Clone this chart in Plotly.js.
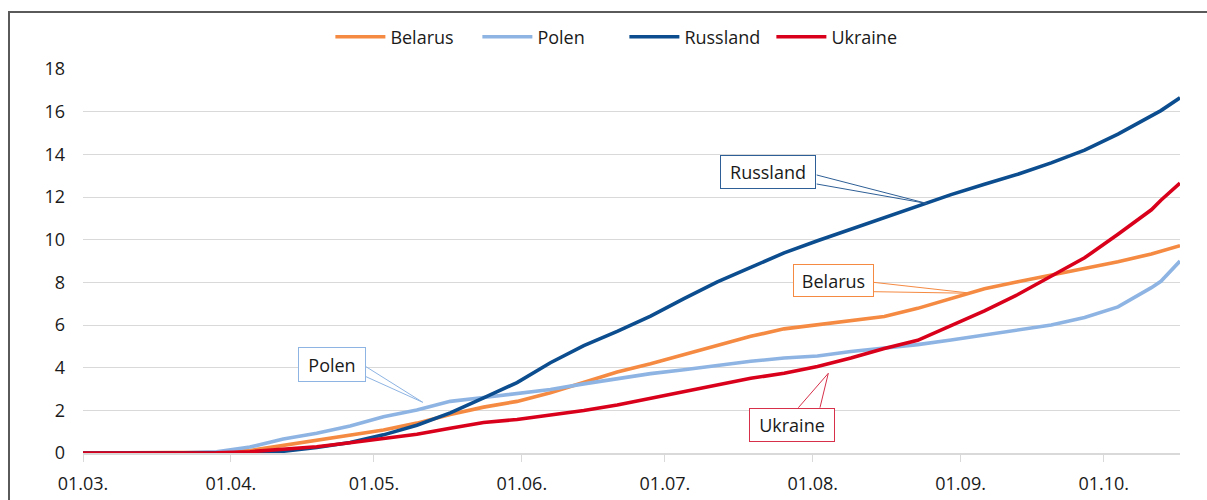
<!DOCTYPE html>
<html>
<head>
<meta charset="utf-8">
<script src="https://cdn.plot.ly/plotly-3.0.1.min.js"></script>
<style>
  html, body { margin: 0; padding: 0; background: #fff; }
  #wrap { position: relative; width: 1207px; height: 500px; overflow: hidden; }
  #chart { position: absolute; left: 0; top: 0; width: 1207px; height: 500px; }
  #frame { position: absolute; left: 8px; top: 11px; width: 1300px; height: 600px;
           border-left: 2px solid #5a5a5a; border-top: 2px solid #5a5a5a; pointer-events: none; }
</style>
</head>
<body>
<div id="wrap">
  <div id="chart"></div>
  <div id="frame"></div>
</div>
<script>
const dates = ['2021-03-01','2021-03-08','2021-03-15','2021-03-22','2021-03-29',
  '2021-04-05','2021-04-12','2021-04-19','2021-04-26','2021-05-03',
  '2021-05-10','2021-05-17','2021-05-24','2021-05-31','2021-06-07',
  '2021-06-14','2021-06-21','2021-06-28','2021-07-05','2021-07-12',
  '2021-07-19','2021-07-26','2021-08-02','2021-08-09','2021-08-16',
  '2021-08-23','2021-08-30','2021-09-06','2021-09-13','2021-09-20',
  '2021-09-27','2021-10-04','2021-10-11','2021-10-13','2021-10-17'];

const belarus = [0,0,0,0.01,0.03, 0.12,0.36,0.61,0.85,1.08, 1.4,1.8,2.15,2.42,2.82,
  3.33,3.8,4.18,4.62,5.04, 5.47,5.82,6.0,6.18,6.4, 6.78,7.22,7.7,8.03,8.35,
  8.64,8.97,9.33,9.45,9.72];
const polen = [0,0,0,0.01,0.06, 0.28,0.66,0.93,1.27,1.7, 2.02,2.42,2.6,2.78,2.98,
  3.24,3.5,3.72,3.9,4.1, 4.3,4.45,4.55,4.76,4.92, 5.08,5.3,5.52,5.78,6.0,
  6.35,6.85,7.75,8.05,9.0];
const russland = [0,0,0,0,0.01, 0.02,0.08,0.26,0.49,0.85, 1.3,1.88,2.58,3.3,4.23,
  5.03,5.7,6.42,7.24,8.02, 8.7,9.38,9.95,10.5,11.05, 11.6,12.11,12.6,13.07,13.6,
  14.2,14.95,15.8,16.05,16.65];
const ukraine = [0,0,0,0,0.01, 0.06,0.17,0.29,0.48,0.68, 0.88,1.16,1.43,1.57,1.76,
  1.99,2.25,2.56,2.9,3.2, 3.5,3.74,4.06,4.45,4.9, 5.28,5.96,6.66,7.43,8.3,
  9.15,10.25,11.4,11.85,12.65];

const seriesNames = ['Belarus','Polen','Russland','Ukraine'];
const seriesColors = ['#f58a42','#8eb4e3','#0b4d8e','#d9001b'];
const tickDates = ['2021-03-01','2021-04-01','2021-05-01','2021-06-01','2021-07-01','2021-08-01','2021-09-01','2021-10-01'];
const tickLabels = ['01.03.','01.04.','01.05.','01.06.','01.07.','01.08.','01.09.','01.10.'];

const FONT = '"Open Sans", "Noto Sans", sans-serif';
const allSeries = [belarus, polen, russland, ukraine];
const traces = allSeries.map((ys, i) => ({
  type: 'scatter', mode: 'lines', name: seriesNames[i],
  x: dates, y: ys,
  line: {color: seriesColors[i], width: 3.6}
}));

function callout(text, cx, cy, w, h, color) {
  return {xref: 'paper', yref: 'paper', x: cx, y: cy, xanchor: 'center', yanchor: 'middle',
    text: text, showarrow: false, width: w, height: h, bgcolor: '#ffffff',
    bordercolor: color, borderwidth: 1, borderpad: 0,
    font: {family: FONT, size: 18, color: '#1a1a1a'}};
}
function wedge(pts, color) {
  return {type: 'path', xref: 'paper', yref: 'paper',
    path: 'M' + pts[0][0] + ',' + pts[0][1] + ' L' + pts[1][0] + ',' + pts[1][1] + ' L' + pts[2][0] + ',' + pts[2][1],
    line: {color: color, width: 1}, fillcolor: 'rgba(0,0,0,0)'};
}

const layout = {
  width: 1207, height: 500,
  margin: {l: 83, r: 27, t: 69, b: 47},
  paper_bgcolor: '#ffffff', plot_bgcolor: '#ffffff',
  font: {family: FONT, size: 18, color: '#1a1a1a'},
  showlegend: true,
  legend: {orientation: 'h', xref: 'container', yref: 'container', x: 0.5173, y: 0.926,
    xanchor: 'center', yanchor: 'middle', font: {family: FONT, size: 18, color: '#1a1a1a'},
    traceorder: 'normal', itemwidth: 50, entrywidth: 82},
  xaxis: {type: 'date', range: ['2021-03-01', '2021-10-17'],
    tickvals: tickDates, ticktext: tickLabels, showgrid: false, zeroline: false,
    showline: true, linecolor: '#d9d9d9', linewidth: 2,
    ticks: 'outside', ticklen: 7, tickcolor: '#d9d9d9', tickwidth: 1,
    ticklabelstandoff: 6, tickfont: {family: FONT, size: 18, color: '#1a1a1a'}},
  yaxis: {range: [0, 18], dtick: 2, tick0: 0, showgrid: true, gridcolor: '#d9d9d9', gridwidth: 1,
    zeroline: false, showline: false, ticks: '', ticklabelstandoff: 17,
    tickfont: {family: FONT, size: 18, color: '#1a1a1a'}},
  annotations: [
    callout('Russland', 0.6247, 0.7318, 94, 32, '#2e5f96'),
    callout('Belarus', 0.6837, 0.4505, 79, 31, '#f58a42'),
    callout('Polen', 0.2272, 0.2313, 66, 33, '#8eb4e3'),
    callout('Ukraine', 0.6465, 0.0737, 84, 32, '#d6304a')
  ],
  shapes: [
    wedge([[0.6688, 0.7240], [0.7694, 0.6497], [0.6688, 0.7005]], '#2e5f96'),
    wedge([[0.7204, 0.4445], [0.8101, 0.4159], [0.7204, 0.4201]], '#f58a42'),
    wedge([[0.2580, 0.2247], [0.3097, 0.1320], [0.2580, 0.1987]], '#8eb4e3'),
    wedge([[0.6521, 0.1180], [0.6794, 0.2076], [0.6718, 0.1180]], '#d6304a')
  ]
};

Plotly.newPlot('chart', traces, layout, {displayModeBar: false, staticPlot: true});
</script>
</body>
</html>
